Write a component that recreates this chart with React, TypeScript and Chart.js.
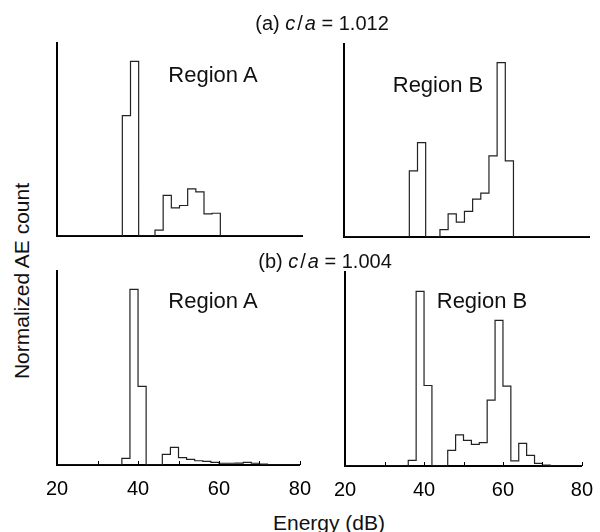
import React, { useEffect, useRef } from "react";
import { Chart, registerables } from "chart.js";

Chart.register(...registerables);

// ---- Data (bin left edges in dB, normalized AE count for the bin starting at that edge) ----
const edgesA1 = [20, 36, 38, 40, 44, 46, 48, 50, 52, 54, 56, 58, 60, 80];
const countsA1 = [0, 0.624, 0.905, 0, 0.03, 0.21, 0.146, 0.158, 0.244, 0.229, 0.115, 0.118, 0, 0];

const edgesB1 = [20, 36, 38, 40, 43.5, 45.5, 47.5, 49.5, 51.5, 53.5, 55.5, 57.5, 59.5, 61.5, 80];
const countsB1 = [0, 0.343, 0.489, 0, 0.038, 0.12, 0.077, 0.133, 0.196, 0.227, 0.42, 0.904, 0.394, 0, 0];

const edgesA2 = [20, 36, 38, 40, 42, 46, 48, 50, 52, 54, 56, 58, 60, 64, 66, 68, 70, 72, 80];
const countsA2 = [0, 0.034, 0.905, 0.405, 0, 0.055, 0.091, 0.038, 0.029, 0.022, 0.019, 0.014, 0.009, 0.01, 0.014, 0.009, 0.005, 0, 0];

const edgesB2 = [20, 36, 38, 40, 42, 46, 48, 50, 52, 54, 56, 58, 60, 62, 64, 66, 68, 70, 72, 80];
const countsB2 = [0, 0.029, 0.9, 0.415, 0, 0.081, 0.16, 0.132, 0.111, 0.12, 0.34, 0.751, 0.412, 0.026, 0.117, 0.055, 0.014, 0.004, 0, 0];

const xTickValues = [20, 40, 60, 80];
const minorTickValues = [30, 40, 50, 60, 70, 80];

const FONT = "'Liberation Sans', Arial, Helvetica, sans-serif";

type PanelSpec = {
  edges: number[];
  counts: number[];
  L: number;
  T: number;
  R: number;
  B: number;
  showTicks: boolean;
};

const innerTicks = {
  id: "innerTicks",
  afterDraw(chart: any, _args: any, opts: any) {
    if (!opts || !opts.show) return;
    const xs = chart.scales.x;
    const ys = chart.scales.y;
    const ctx = chart.ctx;
    const base = ys.getPixelForValue(0);
    ctx.save();
    ctx.strokeStyle = "#000";
    ctx.lineWidth = 1;
    for (const v of opts.values as number[]) {
      const px = Math.round(xs.getPixelForValue(v)) + 0.5;
      ctx.beginPath();
      ctx.moveTo(px, base);
      ctx.lineTo(px, base - 4);
      ctx.stroke();
    }
    ctx.restore();
  },
};

function Panel({ spec }: { spec: PanelSpec }) {
  const ref = useRef<HTMLCanvasElement | null>(null);
  const pad = 20;
  const axisH = 40;
  const w = spec.R - spec.L + 2 * pad;
  const h = spec.B - spec.T + pad + (spec.showTicks ? axisH : pad);

  useEffect(() => {
    if (!ref.current) return;
    const points = spec.edges.map((e, i) => ({ x: e, y: spec.counts[i] }));
    const chart = new Chart(ref.current, {
      type: "line",
      data: {
        datasets: [
          {
            data: points,
            stepped: true,
            borderColor: "#222",
            borderWidth: 1.2,
            pointRadius: 0,
            fill: false,
            tension: 0,
          },
        ],
      },
      options: {
        animation: false,
        responsive: false,
        maintainAspectRatio: false,
        events: [],
        layout: {
          padding: { left: pad, right: pad, top: pad, bottom: spec.showTicks ? 0 : pad },
        },
        plugins: {
          legend: { display: false },
          tooltip: { enabled: false },
          title: { display: false },
          innerTicks: { show: spec.showTicks, values: minorTickValues },
        } as any,
        scales: {
          x: {
            type: "linear",
            min: 20,
            max: 80,
            border: { display: true, color: "#000", width: 2 },
            grid: { display: false, drawTicks: false },
            ticks: {
              display: spec.showTicks,
              color: "#000",
              font: { family: FONT, size: 20 },
              padding: 12,
              maxRotation: 0,
              autoSkip: false,
              callback: (v: any) => String(v),
            },
            afterBuildTicks: (s: any) => {
              s.ticks = xTickValues.map((v) => ({ value: v }));
            },
            afterFit: (s: any) => {
              s.height = spec.showTicks ? axisH : 0;
            },
          },
          y: {
            type: "linear",
            min: 0,
            max: 1,
            border: { display: true, color: "#000", width: 2 },
            grid: { display: false, drawTicks: false },
            ticks: { display: false },
            afterFit: (s: any) => {
              s.width = 0;
            },
          },
        },
      },
      plugins: [innerTicks as any],
    });
    return () => chart.destroy();
  }, []);

  return (
    <canvas
      ref={ref}
      width={w}
      height={h}
      style={{ position: "absolute", left: spec.L - pad, top: spec.T - pad, width: w, height: h }}
    />
  );
}

function Label({
  x,
  y,
  size,
  children,
  rotate,
}: {
  x: number;
  y: number;
  size: number;
  children: React.ReactNode;
  rotate?: boolean;
}) {
  return (
    <div
      style={{
        position: "absolute",
        left: x,
        top: y,
        transform: `translate(-50%, -50%)${rotate ? " rotate(-90deg)" : ""}`,
        fontFamily: FONT,
        fontSize: size,
        lineHeight: 1,
        whiteSpace: "nowrap",
        color: "#111",
      }}
    >
      {children}
    </div>
  );
}

const panels: PanelSpec[] = [
  { edges: edgesA1, counts: countsA1, L: 57, T: 43, R: 302, B: 236, showTicks: false },
  { edges: edgesB1, counts: countsB1, L: 344, T: 44, R: 589, B: 237, showTicks: false },
  { edges: edgesA2, counts: countsA2, L: 54, T: 271, R: 303, B: 465, showTicks: true },
  { edges: edgesB2, counts: countsB2, L: 342, T: 272, R: 585, B: 466, showTicks: true },
];

function Ratio({ tag, value }: { tag: string; value: string }) {
  return (
    <span>
      ({tag}) <i>c</i>
      <span style={{ margin: "0 2px" }}>/</span>
      <i>a</i> = {value}
    </span>
  );
}

export default function App() {
  return (
    <div style={{ position: "absolute", left: 0, top: 0, width: 600, height: 532, background: "#fff" }}>
      {panels.map((p, i) => (
        <Panel key={i} spec={p} />
      ))}
      <Label x={322} y={23} size={20}>
        <Ratio tag="a" value="1.012" />
      </Label>
      <Label x={325} y={261} size={20}>
        <Ratio tag="b" value="1.004" />
      </Label>
      <Label x={213} y={75} size={22}>Region A</Label>
      <Label x={438} y={85} size={22}>Region B</Label>
      <Label x={213} y={301} size={22}>Region A</Label>
      <Label x={482} y={301} size={22}>Region B</Label>
      <Label x={21} y={281} size={21} rotate>
        Normalized AE count
      </Label>
      <Label x={329} y={522} size={21}>Energy (dB)</Label>
    </div>
  );
}
